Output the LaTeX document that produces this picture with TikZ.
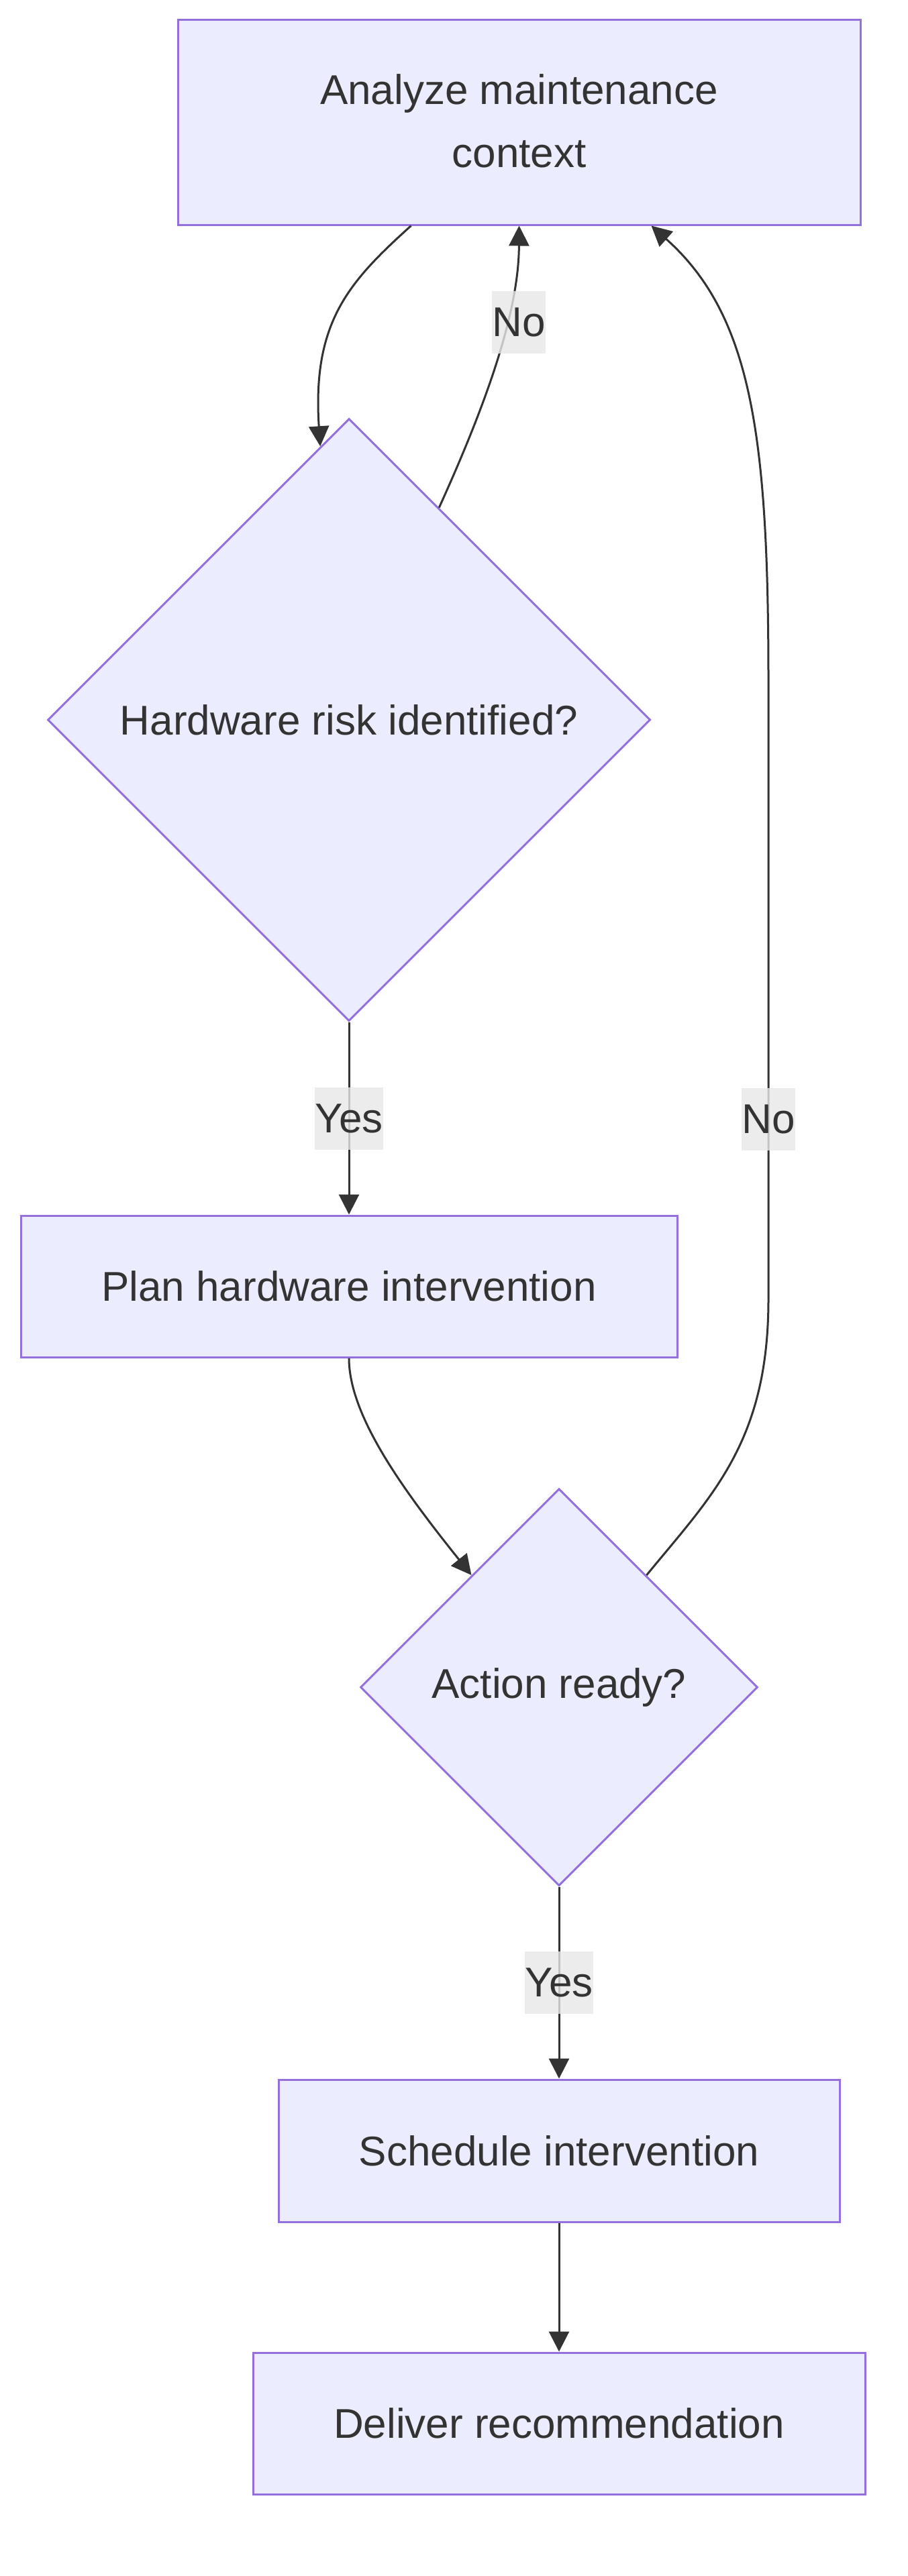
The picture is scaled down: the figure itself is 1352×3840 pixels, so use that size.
\documentclass[tikz,border=0pt]{standalone}
\usepackage{fontspec}
\setmainfont{Liberation Sans}
\usetikzlibrary{shapes.geometric,arrows.meta}
\definecolor{nodefill}{HTML}{ECECFF}
\definecolor{nodeline}{HTML}{9370DB}
\definecolor{edgecol}{HTML}{333333}
\definecolor{lblfill}{HTML}{E8E8E8}
\begin{document}
\begin{tikzpicture}[x=1pt,y=-1pt,
  proc/.style={draw=nodeline,fill=nodefill,line width=3pt,inner sep=0pt,text=edgecol,font=\fontsize{62}{94}\selectfont,align=center},
  decision/.style={proc,diamond,aspect=1},
  edge/.style={draw=edgecol,line width=3pt,-{Triangle[length=30pt,width=30pt]}},
  lbl/.style={fill=lblfill,fill opacity=0.8,text opacity=1,text=edgecol,inner sep=0pt,minimum height=93pt,font=\fontsize{62}{74}\selectfont}]
\fill[white] (0,0) rectangle (1352,3840);
\useasboundingbox (0,0) rectangle (1352,3840);

\node[proc,minimum width=1017pt,minimum height=305pt] (A) at (773.5,182.5) {\raisebox{5pt}{Analyze maintenance}\\\raisebox{5pt}{context}};
\node[decision,minimum width=898pt,minimum height=898pt] (d1) at (520,1073) {Hardware risk identified?};
\node[proc,minimum width=978pt,minimum height=211pt] (plan) at (520,1917.5) {Plan hardware intervention};
\node[decision,minimum width=592pt,minimum height=592pt] (d2) at (833,2515) {Action ready?};
\node[proc,minimum width=836pt,minimum height=212pt] (sched) at (833,3206) {Schedule intervention};
\node[proc,minimum width=912pt,minimum height=211pt] (deliv) at (833,3612.5) {Deliver recommendation};

% A -> d1
\draw[edge] ([xshift=-161pt]A.south) .. controls (520,420) and (465,480) .. (d1.96);
% d1 -> A (No)
\draw[edge] (d1.67) .. controls (730,590) and (773,460) .. (A.south);
\node[lbl] (l1) at (773,480) {No};
% d1 -> plan (Yes)
\draw[edge] (d1.south) -- node[lbl] (l2) {Yes} (plan.north);
% plan -> d2
\draw[edge] (plan.south) .. controls (520,2110) and (600,2220) .. (d2.128);
% d2 -> A (No)
\draw[edge] (d2.52) .. controls (1060,2230) and (1145,2150) .. (1145,1937)
  -- node[lbl,pos=0.2914] (l3) {No} (1145,1014)
  .. controls (1145,650) and (1120,470) .. ([xshift=197pt]A.south);
% d2 -> sched (Yes)
\draw[edge] (d2.south) -- node[lbl] (l4) {Yes} (sched.north);
% sched -> deliver
\draw[edge] (sched.south) -- (deliv.north);
\end{tikzpicture}
\end{document}
